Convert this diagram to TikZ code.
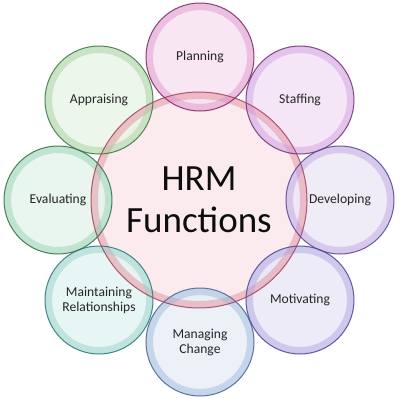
\documentclass[tikz,border=0pt]{standalone}
\usepackage{fontspec}
\setmainfont{Carlito}
\begin{document}
\begin{tikzpicture}[x=1pt,y=-1pt,
  bubble/.style={circle, inner sep=0pt, minimum size=108pt, fill opacity=0.8, text opacity=1,
    text=black!85, align=center, font=\fontsize{13.6}{15}\selectfont},
  bigbubble/.style={bubble, minimum size=216pt, text=black!95, font=\fontsize{37}{42}\selectfont},
  rimline/.style={line width=7pt, draw opacity=0.45},
  edgeline/.style={line width=1pt, draw opacity=0.9}]
\definecolor{cCf}{HTML}{FBE6EA}\definecolor{cCr}{HTML}{E08898}\definecolor{cCb}{HTML}{A84860}
\definecolor{cPf}{HTML}{F8E0F0}\definecolor{cPr}{HTML}{D890C8}\definecolor{cPb}{HTML}{882868}
\definecolor{cSf}{HTML}{F2E0F6}\definecolor{cSr}{HTML}{D098E0}\definecolor{cSb}{HTML}{703878}
\definecolor{cDf}{HTML}{ECE6F6}\definecolor{cDr}{HTML}{B8A0E0}\definecolor{cDb}{HTML}{604898}
\definecolor{cMf}{HTML}{E8E6F6}\definecolor{cMr}{HTML}{A8A0E0}\definecolor{cMb}{HTML}{504898}
\definecolor{cGf}{HTML}{E6EEF6}\definecolor{cGr}{HTML}{98B4DC}\definecolor{cGb}{HTML}{486898}
\definecolor{cRf}{HTML}{E2F4F2}\definecolor{cRr}{HTML}{90D0C8}\definecolor{cRb}{HTML}{347878}
\definecolor{cEf}{HTML}{E4F4EC}\definecolor{cEr}{HTML}{90D0AC}\definecolor{cEb}{HTML}{347252}
\definecolor{cAf}{HTML}{E8F4E6}\definecolor{cAr}{HTML}{A0D098}\definecolor{cAb}{HTML}{447848}
\fill[white] (0,0) rectangle (400,400);
\useasboundingbox (0,0) rectangle (400,400);
\node[bigbubble, fill=cCf] (hrm) at (199,200) {HRM\\Functions};
\node[bubble, fill=cPf] (plan) at (200,57) {Planning};
\node[bubble, fill=cSf] (staff) at (300,100) {Staffing};
\node[bubble, fill=cDf] (dev) at (340,200) {Developing};
\node[bubble, fill=cMf] (mot) at (300,300) {Motivating};
\node[bubble, fill=cGf] (mng) at (200,342) {Managing\\Change};
\node[bubble, fill=cRf] (mnt) at (99,300) {Maintaining\\Relationships};
\node[bubble, fill=cEf] (eval) at (58,200) {Evaluating};
\node[bubble, fill=cAf] (appr) at (99,100) {Appraising};
\draw[rimline, cCr] (hrm.center) circle (104.5);
\foreach \n/\c in {plan/cP, staff/cS, dev/cD, mot/cM, mng/cG, mnt/cR, eval/cE, appr/cA}
  \draw[rimline, \c r] (\n.center) circle (50.5);
\draw[edgeline, cCb] (hrm.center) circle (108);
\foreach \n/\c in {plan/cP, staff/cS, dev/cD, mot/cM, mng/cG, mnt/cR, eval/cE, appr/cA}
  \draw[edgeline, \c b] (\n.center) circle (54);
\end{tikzpicture}
\end{document}
